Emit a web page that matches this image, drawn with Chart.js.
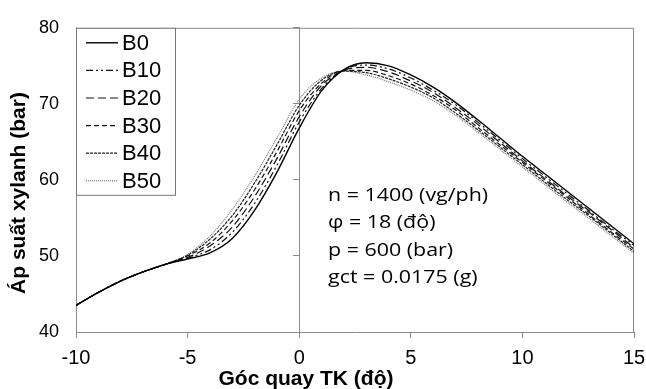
<!DOCTYPE html>
<html>
<head>
<meta charset="utf-8">
<script src="https://cdn.jsdelivr.net/npm/chart.js@4.4.0/dist/chart.umd.min.js"></script>
<style>
  html, body { margin: 0; padding: 0; background: #fff; }
</style>
</head>
<body>
<canvas id="chart" width="646" height="389"></canvas>
<script>
// crank angle (deg) and cylinder pressure (bar) for each blend
const angles = [-10, -9, -8, -7, -6, -5, -4, -3, -2, -1, 0, 1, 2, 3, 4, 5, 6, 7, 8, 9, 10, 11, 12, 13, 14, 15];
const b0  = [43.5, 45.2, 46.7, 47.9, 48.9, 49.6, 50.4, 52.3, 56.0, 61.0, 66.8, 71.7, 74.5, 75.4, 75.0, 73.8, 72.2, 70.2, 67.9, 65.5, 63.1, 60.8, 58.5, 56.2, 53.9, 51.6];
const b10 = [43.5, 45.2, 46.7, 47.9, 48.9, 49.7, 50.8, 53.1, 56.9, 61.9, 67.6, 72.0, 74.5, 75.1, 74.6, 73.4, 71.8, 69.9, 67.6, 65.2, 62.8, 60.5, 58.2, 55.9, 53.6, 51.4];
const b20 = [43.5, 45.2, 46.7, 47.9, 48.9, 49.8, 51.3, 53.8, 57.8, 62.8, 68.3, 72.4, 74.4, 74.8, 74.2, 73.0, 71.5, 69.5, 67.3, 64.9, 62.5, 60.2, 57.9, 55.7, 53.4, 51.1];
const b30 = [43.5, 45.2, 46.7, 47.9, 48.9, 50.0, 51.7, 54.6, 58.7, 63.7, 69.1, 72.7, 74.4, 74.4, 73.7, 72.6, 71.1, 69.2, 66.9, 64.6, 62.3, 60.0, 57.7, 55.4, 53.1, 50.9];
const b40 = [43.5, 45.2, 46.7, 47.9, 48.9, 50.1, 52.2, 55.3, 59.6, 64.6, 69.8, 73.1, 74.3, 74.1, 73.3, 72.2, 70.8, 68.8, 66.6, 64.3, 62.0, 59.7, 57.4, 55.2, 52.9, 50.6];
const b50 = [43.5, 45.2, 46.7, 47.9, 48.9, 50.2, 52.6, 56.1, 60.5, 65.5, 70.6, 73.4, 74.3, 73.8, 72.9, 71.8, 70.4, 68.5, 66.3, 64.0, 61.7, 59.4, 57.1, 54.9, 52.6, 50.4];

const seriesNames = ['B0', 'B10', 'B20', 'B30', 'B40', 'B50'];
const seriesValues = [b0, b10, b20, b30, b40, b50];
const notes = ['n = 1400 (vg/ph)', 'φ = 18 (độ)', 'p = 600 (bar)', 'gct = 0.0175 (g)'];
const xTitle = 'Góc quay TK (độ)';
const yTitle = 'Áp suất xylanh (bar)';

const dashes = [[], [7, 3, 2, 3, 2, 3], [8, 4], [5, 3], [3, 1], [1, 1]];
const colors = ['#000', '#111', '#111', '#111', '#222', '#777'];
const axisColor = '#8a8a8a';
const sans = '"Liberation Sans", Arial, sans-serif';

Chart.defaults.font.family = sans;
Chart.defaults.color = '#000';

const datasets = seriesNames.map((name, i) => ({
    label: name,
    data: angles.map((a, j) => ({ x: a, y: seriesValues[i][j] })),
    borderColor: colors[i],
    borderWidth: i === 0 ? 1.4 : 1.2,
    borderDash: dashes[i],
    pointRadius: 0,
    cubicInterpolationMode: 'monotone',
    fill: false
}));

// frame, legend box, notes and axis titles
const extras = {
    id: 'extras',
    beforeDatasetsDraw(chart) {
        const { ctx, chartArea: a } = chart;
        ctx.save();
        ctx.strokeStyle = axisColor;
        ctx.lineWidth = 1;
        ctx.beginPath();
        ctx.moveTo(a.left, a.top + 0.5);
        ctx.lineTo(a.right - 0.5, a.top + 0.5);
        ctx.lineTo(a.right - 0.5, a.bottom);
        ctx.stroke();
        ctx.restore();
    },
    afterDraw(chart) {
        const { ctx, chartArea: a } = chart;
        ctx.save();

        // legend
        const lx = a.left, ly = a.top;
        ctx.fillStyle = '#fff';
        ctx.fillRect(lx, ly, 99, 167);
        ctx.strokeStyle = '#777';
        ctx.lineWidth = 1;
        ctx.strokeRect(lx + 0.5, ly + 0.5, 99, 167);
        chart.data.datasets.forEach((ds, i) => {
            const y = ly + 15 + i * 27.6;
            ctx.strokeStyle = ds.borderColor;
            ctx.lineWidth = ds.borderWidth;
            ctx.setLineDash(ds.borderDash);
            ctx.beginPath();
            ctx.moveTo(lx + 10, y);
            ctx.lineTo(lx + 42, y);
            ctx.stroke();
            ctx.setLineDash([]);
            ctx.fillStyle = '#000';
            ctx.font = '22px ' + sans;
            ctx.textBaseline = 'middle';
            ctx.textAlign = 'left';
            ctx.fillText(ds.label, lx + 46, y + 1);
        });

        // run conditions (text in the source is drawn a little wide)
        ctx.font = '18px "Open Sans", sans-serif';
        ctx.fillStyle = '#000';
        ctx.textBaseline = 'alphabetic';
        notes.forEach((t, i) => {
            ctx.save();
            ctx.translate(328, 201 + i * 27.4);
            ctx.scale(1.19, 1);
            ctx.fillText(t, 0, 0);
            ctx.restore();
        });

        // axis titles
        ctx.font = 'bold 21px ' + sans;
        ctx.textAlign = 'center';
        ctx.fillText(xTitle, 306, 385);
        ctx.translate(25, 193);
        ctx.rotate(-Math.PI / 2);
        ctx.fillText(yTitle, 0, 0);
        ctx.restore();
    }
};

new Chart(document.getElementById('chart'), {
    type: 'line',
    data: { datasets: datasets },
    options: {
        responsive: false,
        animation: false,
        layout: { padding: { top: 19, right: 12, left: 0, bottom: 0 } },
        plugins: { legend: { display: false }, tooltip: { enabled: false } },
        scales: {
            x: {
                type: 'linear',
                min: -10,
                max: 15,
                ticks: { stepSize: 5, padding: 8, font: { size: 20 }, color: '#000', maxRotation: 0 },
                grid: { drawOnChartArea: false, drawTicks: true, tickLength: 6, color: axisColor },
                border: { color: axisColor },
                afterFit: s => { s.height = 57; s.paddingLeft = 0; s.paddingRight = 0; }
            },
            y: {
                min: 40,
                max: 80,
                ticks: { stepSize: 10, padding: 17, font: { size: 18 }, color: '#000' },
                grid: { drawOnChartArea: false, drawTicks: false, color: axisColor },
                border: { color: axisColor },
                afterFit: s => { s.width = 76; }
            },
            y0: {
                position: { x: 0 },
                min: 40,
                max: 80,
                ticks: { stepSize: 10, display: false },
                grid: { drawOnChartArea: false, drawTicks: true, tickLength: 6, color: axisColor },
                border: { color: axisColor }
            }
        }
    },
    plugins: [extras]
});
</script>
</body>
</html>
